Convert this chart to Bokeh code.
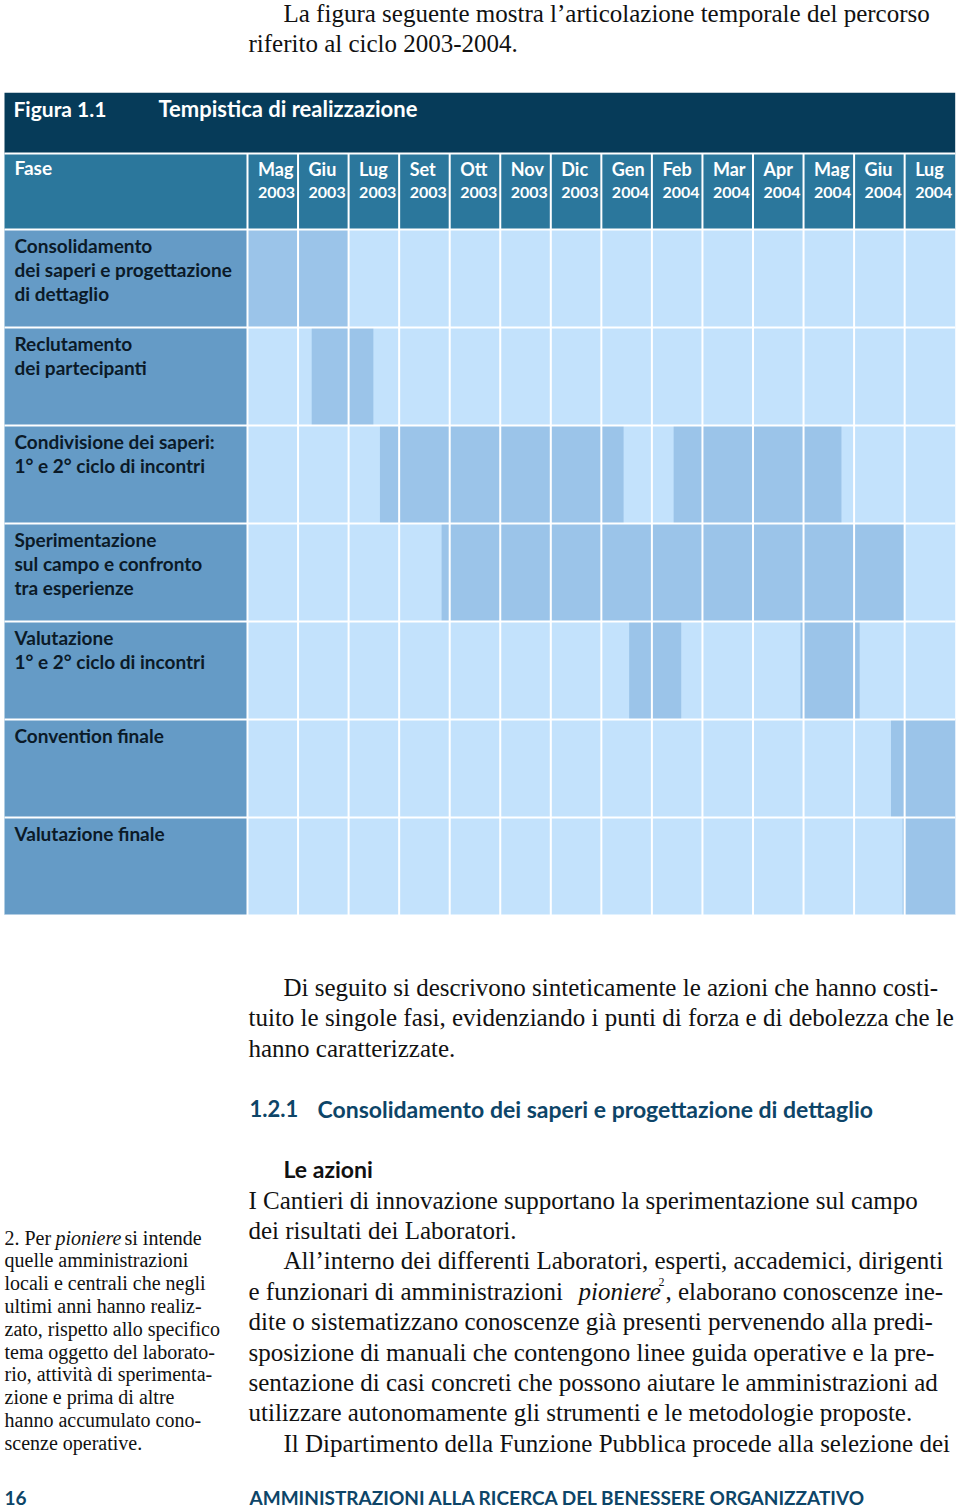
from bokeh.plotting import figure
from bokeh.models import Range1d
from bokeh.layouts import column
from bokeh.core.properties import value
from bokeh.embed import file_html
from bokeh.resources import INLINE

# ---------------- data ----------------
months = ["Mag", "Giu", "Lug", "Set", "Ott", "Nov", "Dic",
          "Gen", "Feb", "Mar", "Apr", "Mag", "Giu", "Lug"]
years = ["2003", "2003", "2003", "2003", "2003", "2003", "2003",
         "2004", "2004", "2004", "2004", "2004", "2004", "2004"]
phase_lines = [
    ["Consolidamento", "dei saperi e progettazione", "di dettaglio"],
    ["Reclutamento", "dei partecipanti"],
    ["Condivisione dei saperi:", "1° e 2° ciclo di incontri"],
    ["Sperimentazione", "sul campo e confronto", "tra esperienze"],
    ["Valutazione", "1° e 2° ciclo di incontri"],
    ["Convention finale"],
    ["Valutazione finale"],
]
# bars: phase index, start / end in months from May 2003
bar_phase = [0, 1, 2, 2, 3, 4, 4, 5, 6]
bar_start = [0.0, 1.27, 2.62, 8.43, 3.84, 7.55, 10.94, 12.73, 12.96]
bar_end = [2.0, 2.49, 7.44, 11.75, 13.0, 8.58, 12.11, 14.0, 14.0]

title_fig = "Figura 1.1"
title_text = "Tempistica di realizzazione"
header_phase = "Fase"

intro_lines = ["La figura seguente mostra l\u2019articolazione temporale del percorso",
               "riferito al ciclo 2003-2004."]
after_lines = ["Di seguito si descrivono sinteticamente le azioni che hanno costi-",
               "tuito le singole fasi, evidenziando i punti di forza e di debolezza che le",
               "hanno caratterizzate."]
section_num = "1.2.1"
section_title = "Consolidamento dei saperi e progettazione di dettaglio"
sub_title = "Le azioni"
body_lines = ["I Cantieri di innovazione supportano la sperimentazione sul campo",
              "dei risultati dei Laboratori.",
              "All\u2019interno dei differenti Laboratori, esperti, accademici, dirigenti",
              None,
              "dite o sistematizzano conoscenze gi\u00e0 presenti pervenendo alla predi-",
              "sposizione di manuali che contengono linee guida operative e la pre-",
              "sentazione di casi concreti che possono aiutare le amministrazioni ad",
              "utilizzare autonomamente gli strumenti e le metodologie proposte.",
              "Il Dipartimento della Funzione Pubblica procede alla selezione dei"]
body_indent = [False, False, True, False, False, False, False, False, True]
body_l4 = ["e funzionari di amministrazioni", "pioniere", "2", ", elaborano conoscenze ine-"]
note_l1 = ["2. Per", "pioniere", "si intende"]
note_lines = ["quelle amministrazioni", "locali e centrali che negli",
              "ultimi anni hanno realiz-", "zato, rispetto allo specifico",
              "tema oggetto del laborato-", "rio, attivit\u00e0 di sperimenta-",
              "zione e prima di altre", "hanno accumulato cono-", "scenze operative."]
page_num = "16"
footer = "AMMINISTRAZIONI ALLA RICERCA DEL BENESSERE ORGANIZZATIVO"

# ---------------- style ----------------
C_TITLE = "#063b59"
C_HEAD = "#2b779c"
C_LABEL = "#659bc6"
C_CELL = "#c3e2fc"
C_BAR = "#9bc4e9"
C_LTXT = "#0b1a28"
C_TEAL = "#0d4568"
TXT = "#111111"
SERIF = value("Liberation Serif")
SANS = value("Lato")

PAGE_L, PAGE_R = 0, 960
W = PAGE_R - PAGE_L


def make_fig(h, xr, yr):
    p = figure(width=W, height=h, x_range=xr, y_range=yr,
               x_axis_type=None, y_axis_type=None,
               output_backend="svg", toolbar_location=None,
               min_border=0, outline_line_color=None,
               background_fill_color="white", border_fill_color="white")
    p.grid.visible = False
    return p


# ---------------- top text ----------------
top = make_fig(92, Range1d(PAGE_L, PAGE_R), Range1d(92, 0))
top.text(x=[283, 248], y=[12.5, 42.5], text=intro_lines, text_font=SERIF,
         text_font_size="25px", text_color=TXT, text_baseline="middle")

# ---------------- gantt ----------------
COL_W = 50.55
X0 = 247.0
ROW_H = 98.0
Y0 = 229.0


def mx(px):
    return (px - X0) / COL_W


def ry(py):
    return (py - Y0) / ROW_H


n = len(months)
nr = len(phase_lines)
g = make_fig(823, Range1d(mx(PAGE_L), mx(PAGE_R)), Range1d(ry(915), ry(92)))

g.quad(left=[mx(4)], right=[n], top=[ry(92)], bottom=[ry(153)], fill_color=C_TITLE, line_color=None)
g.quad(left=[mx(4)], right=[n], top=[ry(153)], bottom=[0], fill_color=C_HEAD, line_color=None)
g.quad(left=[mx(4)], right=[0], top=[0], bottom=[nr], fill_color=C_LABEL, line_color=None)
g.quad(left=[0], right=[n], top=[0], bottom=[nr], fill_color=C_CELL, line_color=None)
g.quad(left=bar_start, right=bar_end, top=bar_phase, bottom=[b + 1 for b in bar_phase],
       fill_color=C_BAR, line_color=None)

# white grid lines
vx = list(range(0, n))
g.segment(x0=vx, y0=[ry(153)] * len(vx), x1=vx, y1=[nr] * len(vx), line_color="white", line_width=2)
hy = [ry(153)] + list(range(0, nr + 1))
g.segment(x0=[mx(4)] * len(hy), y0=hy, x1=[n] * len(hy), y1=hy, line_color="white", line_width=2)

g.text(x=[mx(13)], y=[ry(108)], text=[title_fig], text_font=SANS, text_font_style="bold",
       text_font_size="21px", text_color="white", text_baseline="middle")
g.text(x=[mx(158)], y=[ry(108)], text=[title_text], text_font=SANS, text_font_style="bold",
       text_font_size="22px", text_color="white", text_baseline="middle")
g.text(x=[mx(14)], y=[ry(167)], text=[header_phase], text_font=SANS, text_font_style="bold",
       text_font_size="19px", text_color="white", text_baseline="middle")
mxs = [k + 10.5 / COL_W for k in range(n)]
g.text(x=mxs, y=[ry(168)] * n, text=months, text_font=SANS, text_font_style="bold",
       text_font_size="18px", text_color="white", text_baseline="middle")
g.text(x=mxs, y=[ry(192)] * n, text=years, text_font=SANS, text_font_style="bold",
       text_font_size="16px", text_color="white", text_baseline="middle")

lx, ly, lt = [], [], []
for i, lines in enumerate(phase_lines):
    for j, t in enumerate(lines):
        lx.append(mx(14))
        ly.append(i + (16 + 24 * j) / ROW_H)
        lt.append(t)
g.text(x=lx, y=ly, text=lt, text_font=SANS, text_font_style="bold",
       text_font_size="19px", text_color=C_LTXT, text_baseline="middle")

# ---------------- bottom text ----------------
b = make_fig(595, Range1d(PAGE_L, PAGE_R), Range1d(1510, 915))
b.text(x=[283, 248, 248], y=[986.5, 1017, 1047.5], text=after_lines, text_font=SERIF,
       text_font_size="25px", text_color=TXT, text_baseline="middle")

b.text(x=[249], y=[1108], text=[section_num], text_font=SANS, text_font_style="bold",
       text_font_size="22px", text_color=C_TEAL, text_baseline="middle")
b.text(x=[317], y=[1108], text=[section_title], text_font=SANS, text_font_style="bold",
       text_font_size="23px", text_color=C_TEAL, text_baseline="middle")
b.text(x=[283], y=[1168], text=[sub_title], text_font=SANS, text_font_style="bold",
       text_font_size="23px", text_color=TXT, text_baseline="middle")

bx, by, bt = [], [], []
for i, t in enumerate(body_lines):
    if t is None:
        continue
    bx.append(283 if body_indent[i] else 248)
    by.append(1199.5 + 30.4 * i)
    bt.append(t)
b.text(x=bx, y=by, text=bt, text_font=SERIF, text_font_size="25px", text_color=TXT,
       text_baseline="middle")
y4 = 1199.5 + 30.4 * 3
b.text(x=[248, 665], y=[y4, y4], text=[body_l4[0], body_l4[3]], text_font=SERIF,
       text_font_size="25px", text_color=TXT, text_baseline="middle")
b.text(x=[578], y=[y4], text=[body_l4[1]], text_font=SERIF, text_font_style="italic",
       text_font_size="25px", text_color=TXT, text_baseline="middle")
b.text(x=[658], y=[y4 - 9], text=[body_l4[2]], text_font=SERIF,
       text_font_size="12px", text_color=TXT, text_baseline="middle")

# footnote
NX = 4
ny0 = 1237
b.text(x=[NX, 124], y=[ny0, ny0], text=[note_l1[0], note_l1[2]], text_font=SERIF,
       text_font_size="20px", text_color=TXT, text_baseline="middle")
b.text(x=[55], y=[ny0], text=[note_l1[1]], text_font=SERIF, text_font_style="italic",
       text_font_size="20px", text_color=TXT, text_baseline="middle")
b.text(x=[NX] * len(note_lines), y=[ny0 + 22.8 * (i + 1) for i in range(len(note_lines))],
       text=note_lines, text_font=SERIF, text_font_size="20px", text_color=TXT,
       text_baseline="middle")

# footer
b.text(x=[NX], y=[1497], text=[page_num], text_font=SANS, text_font_style="bold",
       text_font_size="19px", text_color=C_TEAL, text_baseline="middle")
b.text(x=[249], y=[1497], text=[footer], text_font=SANS, text_font_style="bold",
       text_font_size="19px", text_color=C_TEAL, text_baseline="middle")

layout = column(top, g, b, spacing=0)
open("out.html", "w").write(file_html(layout, INLINE))
